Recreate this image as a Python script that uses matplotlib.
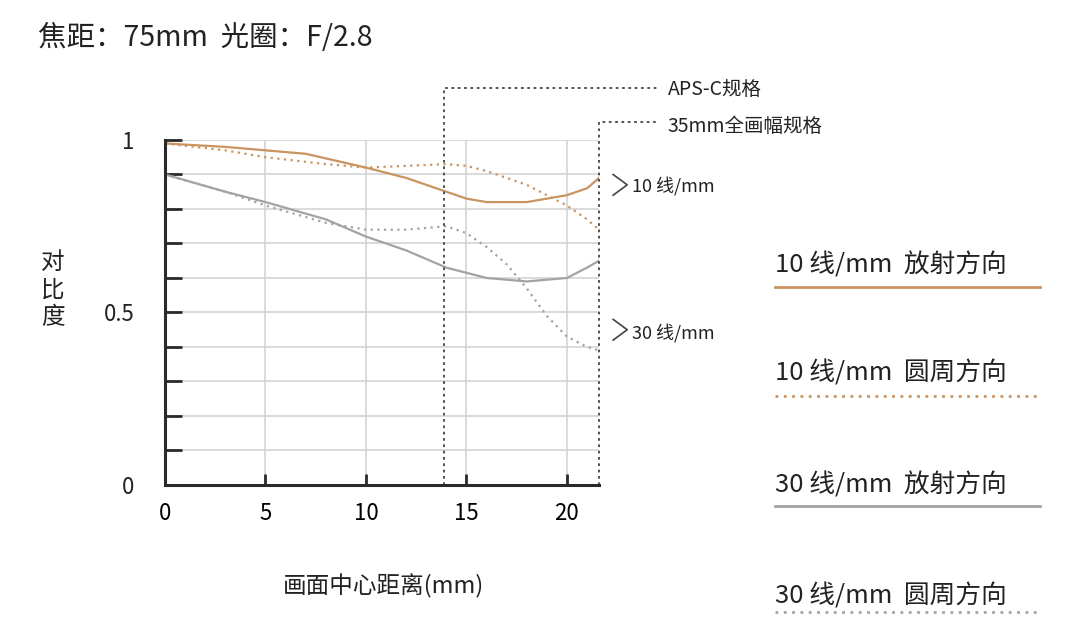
import matplotlib.pyplot as plt

plt.rcParams['font.family'] = ['Noto Sans CJK SC', 'DejaVu Sans']

# MTF data
x10r = [0, 3, 5, 7, 10, 12, 14, 15, 16, 18, 20, 21, 21.6]
y10r = [0.99, 0.98, 0.97, 0.96, 0.92, 0.89, 0.85, 0.83, 0.82, 0.82, 0.84, 0.86, 0.89]
x10t = [0, 3, 5, 8, 10, 12, 14, 15, 16, 18, 20, 21, 21.6]
y10t = [0.99, 0.97, 0.95, 0.93, 0.92, 0.925, 0.93, 0.925, 0.91, 0.87, 0.81, 0.77, 0.74]
x30r = [0, 3, 5, 8, 10, 12, 14, 15, 16, 18, 20, 21, 21.6]
y30r = [0.90, 0.85, 0.82, 0.77, 0.72, 0.68, 0.63, 0.615, 0.60, 0.59, 0.60, 0.63, 0.65]
x30t = [0, 3, 5, 8, 10, 12, 14, 15, 16, 17, 18, 19, 20, 21, 21.6]
y30t = [0.90, 0.85, 0.81, 0.76, 0.74, 0.74, 0.75, 0.73, 0.69, 0.64, 0.57, 0.49, 0.43, 0.40, 0.39]

orange = '#c99460'
gray = '#a3a3a3'
dark = '#2a2a2a'

fig = plt.figure(figsize=(10.8, 6.3), dpi=100)
ax = fig.add_axes([0.1528, 0.2302, 0.4019, 0.5476])

ax.set_xlim(0, 21.6)
ax.set_ylim(0, 1)
for v in [0, 5, 10, 15, 20]:
    ax.axvline(v, color='#d4d4d4', lw=1.2, zorder=0)
for i in range(1, 11):
    ax.axhline(i / 10, color='#d4d4d4', lw=1.2, zorder=0)

ax.plot(x10r, y10r, color=orange, lw=1.6)
ax.plot(x10t, y10t, color=orange, lw=1.6, ls=(0, (1, 2)))
ax.plot(x30r, y30r, color=gray, lw=1.6)
ax.plot(x30t, y30t, color=gray, lw=1.6, ls=(0, (1, 2)))

for s in ['top', 'right']:
    ax.spines[s].set_visible(False)
ax.spines['left'].set_linewidth(2.2)
ax.spines['left'].set_color(dark)
ax.spines['bottom'].set_linewidth(2.2)
ax.spines['bottom'].set_color(dark)
ax.set_xticks([0, 5, 10, 15, 20])
ax.set_yticks([0, 0.5, 1])
ax.set_yticklabels(['0', '0.5', '1'])
ax.set_yticks([i / 10 for i in range(11)], minor=True)
ax.tick_params(axis='y', which='both', direction='in', length=12, width=2, color=dark,
               labelsize=16, pad=22)
ax.tick_params(axis='x', direction='in', length=8, width=2, color=dark, labelsize=16, pad=12)
for t in ax.get_yticklabels():
    t.set_color('#222222')

# format boundaries
ax.plot([13.9, 13.9, 24.6], [0, 1.151, 1.151], color='#444444', lw=1.3,
        ls=(0, (1.5, 2)), clip_on=False)
ax.plot([21.6, 21.6, 24.6], [0, 1.052, 1.052], color='#444444', lw=1.3,
        ls=(0, (1.5, 2)), clip_on=False)
fig.text(0.618, 0.858, 'APS-C规格', fontsize=14, va='center', color='#222222')
fig.text(0.618, 0.800, '35mm全画幅规格', fontsize=14, va='center', color='#222222')

# curve labels
ax.plot([22.3, 23.0, 22.3], [0.9, 0.87, 0.84], color='#444444', lw=1.2, clip_on=False)
fig.text(0.585, 0.705, '10 线/mm', fontsize=13, va='center', color='#222222')
ax.plot([22.3, 23.0, 22.3], [0.48, 0.45, 0.42], color='#444444', lw=1.2, clip_on=False)
fig.text(0.585, 0.471, '30 线/mm', fontsize=13, va='center', color='#222222')

fig.text(0.035, 0.94, '焦距：75mm  光圈：F/2.8', fontsize=20.5, va='center', color='#222222')
fig.text(0.038, 0.54, '对\n比\n度', fontsize=17, va='center', linespacing=1.25, color='#222222')
fig.text(0.355, 0.07, '画面中心距离(mm)', fontsize=17, ha='center', va='center', color='#222222')

# legend
legend = [('10 线/mm  放射方向', orange, '-', 0.579, 0.545),
          ('10 线/mm  圆周方向', orange, (0, (1, 2)), 0.408, 0.371),
          ('30 线/mm  放射方向', gray, '-', 0.230, 0.197),
          ('30 线/mm  圆周方向', gray, (0, (1, 2)), 0.054, 0.029)]
for label, c, ls, ty, ly in legend:
    fig.text(0.718, ty, label, fontsize=18.5, va='center', color='#222222')
    fig.add_artist(plt.Line2D([0.718, 0.963], [ly, ly], color=c, lw=2, ls=ls,
                              transform=fig.transFigure))

fig.savefig('out.png', dpi=100)
